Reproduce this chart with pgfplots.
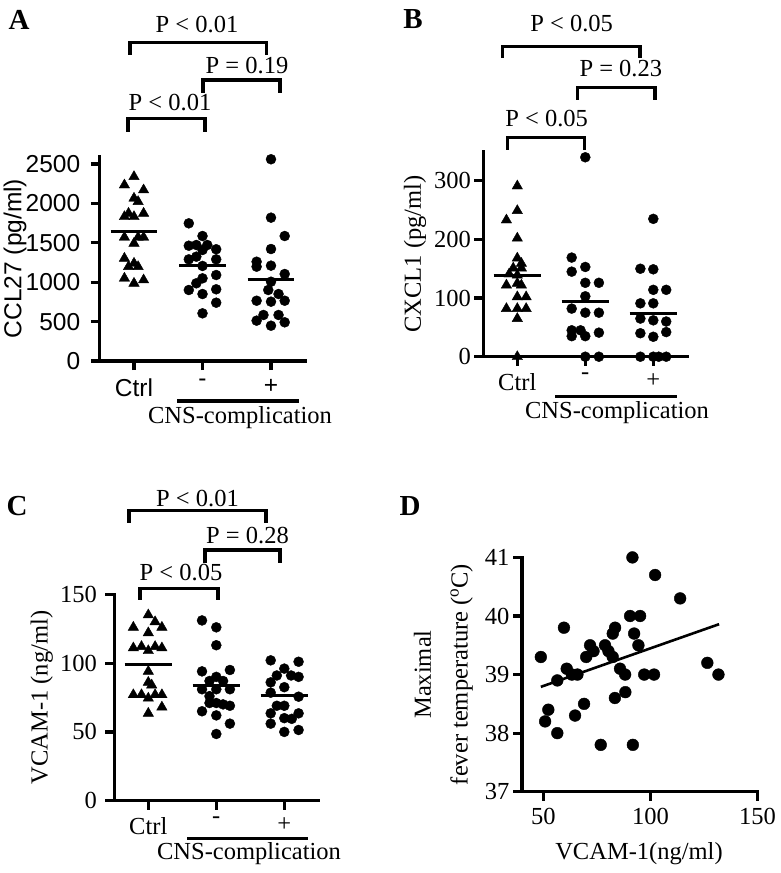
\documentclass[border=0pt]{standalone}
\usepackage{pgfplots}
\pgfplotsset{compat=1.18}
\usepackage{fontspec}
\setmainfont{Liberation Serif}
\setsansfont{Liberation Sans}
\newcommand\fs{\fontsize{24.5}{29}\selectfont}
\newcommand\fl{\fontsize{29}{33}\selectfont\bfseries}
\pgfplotsset{gp/.style={
  scale only axis, anchor=south west, clip=false,
  axis x line*=bottom, axis y line*=left,
  axis line style={line width=3.2pt,-,line cap=rect},
  tick style={line width=3.2pt,black},
  major tick length=9pt, tick align=outside,
  /pgf/number format/assume math mode=true,
  /pgf/number format/1000 sep={},
  ticklabel style={font=\fs},
  xticklabel style={yshift=-4pt},
  enlargelimits=false,
},
tri/.style={only marks, black, mark=triangle*, mark size=6pt},
dot/.style={only marks, black, mark=*, mark size=5pt},
mean/.style={black, line width=3pt, no marks}}
\begin{document}
\begin{tikzpicture}
\path[use as bounding box] (0,0) rectangle (781pt,-873pt);
% ---------------- A ----------------
\begin{axis}[gp, at={(99.75pt,-361pt)}, width=205.5pt, height=204.9pt,
  xmin=0.5, xmax=3.5, ymin=0, ymax=2600, xtick={1,2,3}, xticklabels={Ctrl,-,+},
  ytick={0,500,1000,1500,2000,2500}, ticklabel style={font=\sffamily\fs},
  yticklabel style={xshift=-7pt}, xticklabel style={yshift=-1.5pt}]
\addplot[tri] coordinates {(1.0,2339)(0.86,2233)(1.14,2170)(1.0,2065)(1.06,2022)(0.92,1874)(0.86,1831)(1.0,1831)(1.14,1874)(0.86,1570)(1.06,1570)(1.14,1570)(1.0,1493)(0.86,1303)(1.0,1240)(1.06,1197)(0.92,1197)(0.86,1050)(1.0,986)(1.14,1028)};
\addplot[dot] coordinates {(1.8,1747)(2.0,1586)(1.8,1463)(1.91,1472)(2.07,1472)(2.0,1409)(2.2,1418)(1.8,1290)(1.91,1324)(2.2,1290)(2.0,1206)(2.2,1091)(2.0,1049)(1.91,986)(1.8,901)(2.0,850)(2.2,910)(2.2,740)(2.0,605)};
\addplot[dot] coordinates {(3.0,2560)(3.0,1819)(3.2,1586)(3.0,1421)(2.79,1260)(2.79,1197)(3.0,1210)(3.2,1104)(3.0,1006)(2.96,901)(3.11,850)(2.79,765)(3.0,753)(3.2,765)(2.89,584)(3.11,584)(2.79,512)(3.2,491)(3.0,448)};
\addplot[mean] coordinates {(0.66,1641)(1.34,1641)};
\addplot[mean] coordinates {(1.66,1210)(2.34,1210)};
\addplot[mean] coordinates {(2.66,1037)(3.34,1037)};
\end{axis}
% ---------------- B ----------------
\begin{axis}[gp, at={(483.3pt,-356.7pt)}, width=204pt, height=205.3pt,
  xmin=0.5, xmax=3.5, ymin=0, ymax=350, xtick={1,2,3}, xticklabels={Ctrl,-,+},
  ytick={0,100,200,300}]
\addplot[tri] coordinates {(1.0,291)(1.0,249)(0.84,233)(1.0,202)(1.0,168)(1.06,159)(0.94,151)(1.06,151)(0.88,141)(1.0,139)(0.84,122)(1.0,125)(1.06,122)(1.0,102)(1.13,102)(0.84,82)(1.0,82)(1.13,82)(1.0,65)(1.0,0)};
\addplot[dot] coordinates {(2.0,340)(1.8,169)(2.0,153)(1.8,145)(2.0,126)(2.2,126)(2.0,103)(1.8,82)(2.0,75)(2.2,75)(1.8,45)(1.93,45)(2.2,41)(1.8,35)(2.0,35)(2.0,0)(2.2,0)};
\addplot[dot] coordinates {(3.0,235)(2.81,150)(3.0,149)(3.0,114)(3.19,114)(2.81,91)(3.0,91)(2.81,65)(3.0,62)(3.19,60)(2.81,40)(3.0,34)(3.19,42)(2.81,0)(3.0,0)(3.08,0)(3.19,0)};
\addplot[mean] coordinates {(0.65,139)(1.35,139)};
\addplot[mean] coordinates {(1.65,94)(2.35,94)};
\addplot[mean] coordinates {(2.65,73)(3.35,73)};
\end{axis}
% ---------------- C ----------------
\begin{axis}[gp, at={(114.3pt,-800.7pt)}, width=204pt, height=206.4pt,
  xmin=0.5, xmax=3.5, ymin=0, ymax=150, xtick={1,2,3}, xticklabels={Ctrl,-,+},
  ytick={0,50,100,150}, yticklabel style={xshift=-5pt}]
\addplot[tri] coordinates {(1.0,135)(1.1,130)(0.78,126)(1.2,126)(1.0,122)(0.78,111)(0.9,112)(1.1,112)(1.2,111)(1.0,109)(1.0,94)(1.0,86)(1.05,84)(0.78,77)(0.9,77)(1.1,77)(1.2,77)(1.0,74.5)(1.2,68)(1.0,63.5)};
\addplot[dot] coordinates {(1.79,131)(2.0,126)(2.0,113)(1.79,94)(2.2,95)(2.0,90)(1.9,87)(2.1,87)(1.79,81)(2.0,81)(2.2,81)(1.9,76)(2.0,71)(1.9,71)(2.1,70)(2.2,69)(1.79,65)(2.0,62)(2.2,56)(2.0,48.5)};
\addplot[dot] coordinates {(2.8,102)(3.21,101)(3.0,96)(2.89,91)(3.1,91)(3.21,90)(2.8,86)(3.0,82.5)(2.8,78.5)(3.21,75.6)(3.0,69)(2.89,69)(2.8,63.5)(3.21,63.5)(3.0,60)(3.11,59.5)(2.8,56)(3.0,50)(3.21,51.4)};
\addplot[mean] coordinates {(0.65,98.7)(1.35,98.7)};
\addplot[mean] coordinates {(1.65,83.4)(2.35,83.4)};
\addplot[mean] coordinates {(2.65,76.1)(3.35,76.1)};
\end{axis}
% ---------------- D ----------------
\begin{axis}[gp, at={(522pt,-791.7pt)}, width=235.4pt, height=234.3pt,
  xmin=40, xmax=150, ymin=37, ymax=41, xtick={50,100,150}, ytick={37,38,39,40,41}]
\addplot[only marks, black, mark=*, mark size=5.9pt] coordinates {(102.2,40.7)(113.9,40.3)(90.5,40.0)(95.2,40.0)(59.6,39.8)(83.5,39.8)(82.4,39.7)(92.4,39.7)(71.8,39.5)(78.8,39.5)(94.4,39.5)(73.4,39.4)(80.4,39.4)(70,39.3)(82.4,39.3)(48.8,39.3)(60.9,39.1)(85.8,39.1)(63.3,39.0)(65.9,39.0)(88.2,39.0)(97.1,39.0)(101.7,39.0)(126.6,39.2)(131.8,39.0)(56.5,38.9)(88.3,38.7)(83.4,38.6)(69,38.5)(52.3,38.4)(50.8,38.2)(64.8,38.3)(56.5,38.0)(76.8,37.8)(91.8,37.8)(91.6,41.0)};
\addplot[black, line width=2.6pt, no marks] coordinates {(48.8,38.79)(132.1,39.86)};
\end{axis}
% ---------------- annotations ----------------
\begin{scope}[line width=3.2pt, line cap=rect]
% A
\node[font=\fl] at (19pt,-20pt) {A};
\draw (130pt,-53pt)--(130pt,-42.7pt)--(266.7pt,-42.7pt)--(266.7pt,-53pt);
\node[font=\fs] at (197pt,-25pt) {P < 0.01};
\draw (203pt,-91.7pt)--(203pt,-80pt)--(280pt,-80pt)--(280pt,-91.7pt);
\node[font=\fs] at (247pt,-66pt) {P = 0.19};
\draw (128pt,-130pt)--(128pt,-118.3pt)--(205pt,-118.3pt)--(205pt,-130pt);
\node[font=\fs] at (170pt,-103pt) {P < 0.01};
\draw (179pt,-401pt)--(297pt,-401pt);
\node[font=\fs] at (240pt,-418pt) {CNS-complication};
\node[font=\sffamily\fs, rotate=90] at (15pt,-258.5pt) {CCL27 (pg/ml)};
% B
\node[font=\fl] at (413pt,-19pt) {B};
\draw (502.7pt,-56.7pt)--(502.7pt,-46.7pt)--(640pt,-46.7pt)--(640pt,-56.7pt);
\node[font=\fs] at (571.7pt,-23.3pt) {P < 0.05};
\draw (577.7pt,-98.3pt)--(577.7pt,-87.3pt)--(655pt,-87.3pt)--(655pt,-98.3pt);
\node[font=\fs] at (620.8pt,-68.3pt) {P = 0.23};
\draw (507.3pt,-148.3pt)--(507.3pt,-137.3pt)--(584.3pt,-137.3pt)--(584.3pt,-148.3pt);
\node[font=\fs] at (546.7pt,-118.3pt) {P < 0.05};
\draw (557pt,-396.7pt)--(675pt,-396.7pt);
\node[font=\fs] at (617pt,-413pt) {CNS-complication};
\node[font=\fs, rotate=90] at (415pt,-254pt) {CXCL1 (pg/ml)};
% C
\node[font=\fl] at (17pt,-506pt) {C};
\draw (129pt,-521.7pt)--(129pt,-510.7pt)--(266pt,-510.7pt)--(266pt,-521.7pt);
\node[font=\fs] at (197.5pt,-498.3pt) {P < 0.01};
\draw (205pt,-561.7pt)--(205pt,-550pt)--(280pt,-550pt)--(280pt,-561.7pt);
\node[font=\fs] at (247.5pt,-536pt) {P = 0.28};
\draw (140pt,-598pt)--(140pt,-588.3pt)--(218pt,-588.3pt)--(218pt,-598pt);
\node[font=\fs] at (181pt,-573pt) {P < 0.05};
\draw (189pt,-838.3pt)--(306pt,-838.3pt);
\node[font=\fs] at (249pt,-854pt) {CNS-complication};
\node[font=\fs, rotate=90] at (41.7pt,-697.5pt) {VCAM-1 (ng/ml)};
% D
\node[font=\fl] at (410pt,-506pt) {D};
\node[font=\fontsize{24.5}{36.7}\selectfont, rotate=90, align=center] at (443.3pt,-674.5pt) {Maximal\\fever temperature (\textsuperscript{o}C)};
\node[font=\fs] at (639pt,-853.3pt) {VCAM-1(ng/ml)};
\end{scope}
\end{tikzpicture}
\end{document}
